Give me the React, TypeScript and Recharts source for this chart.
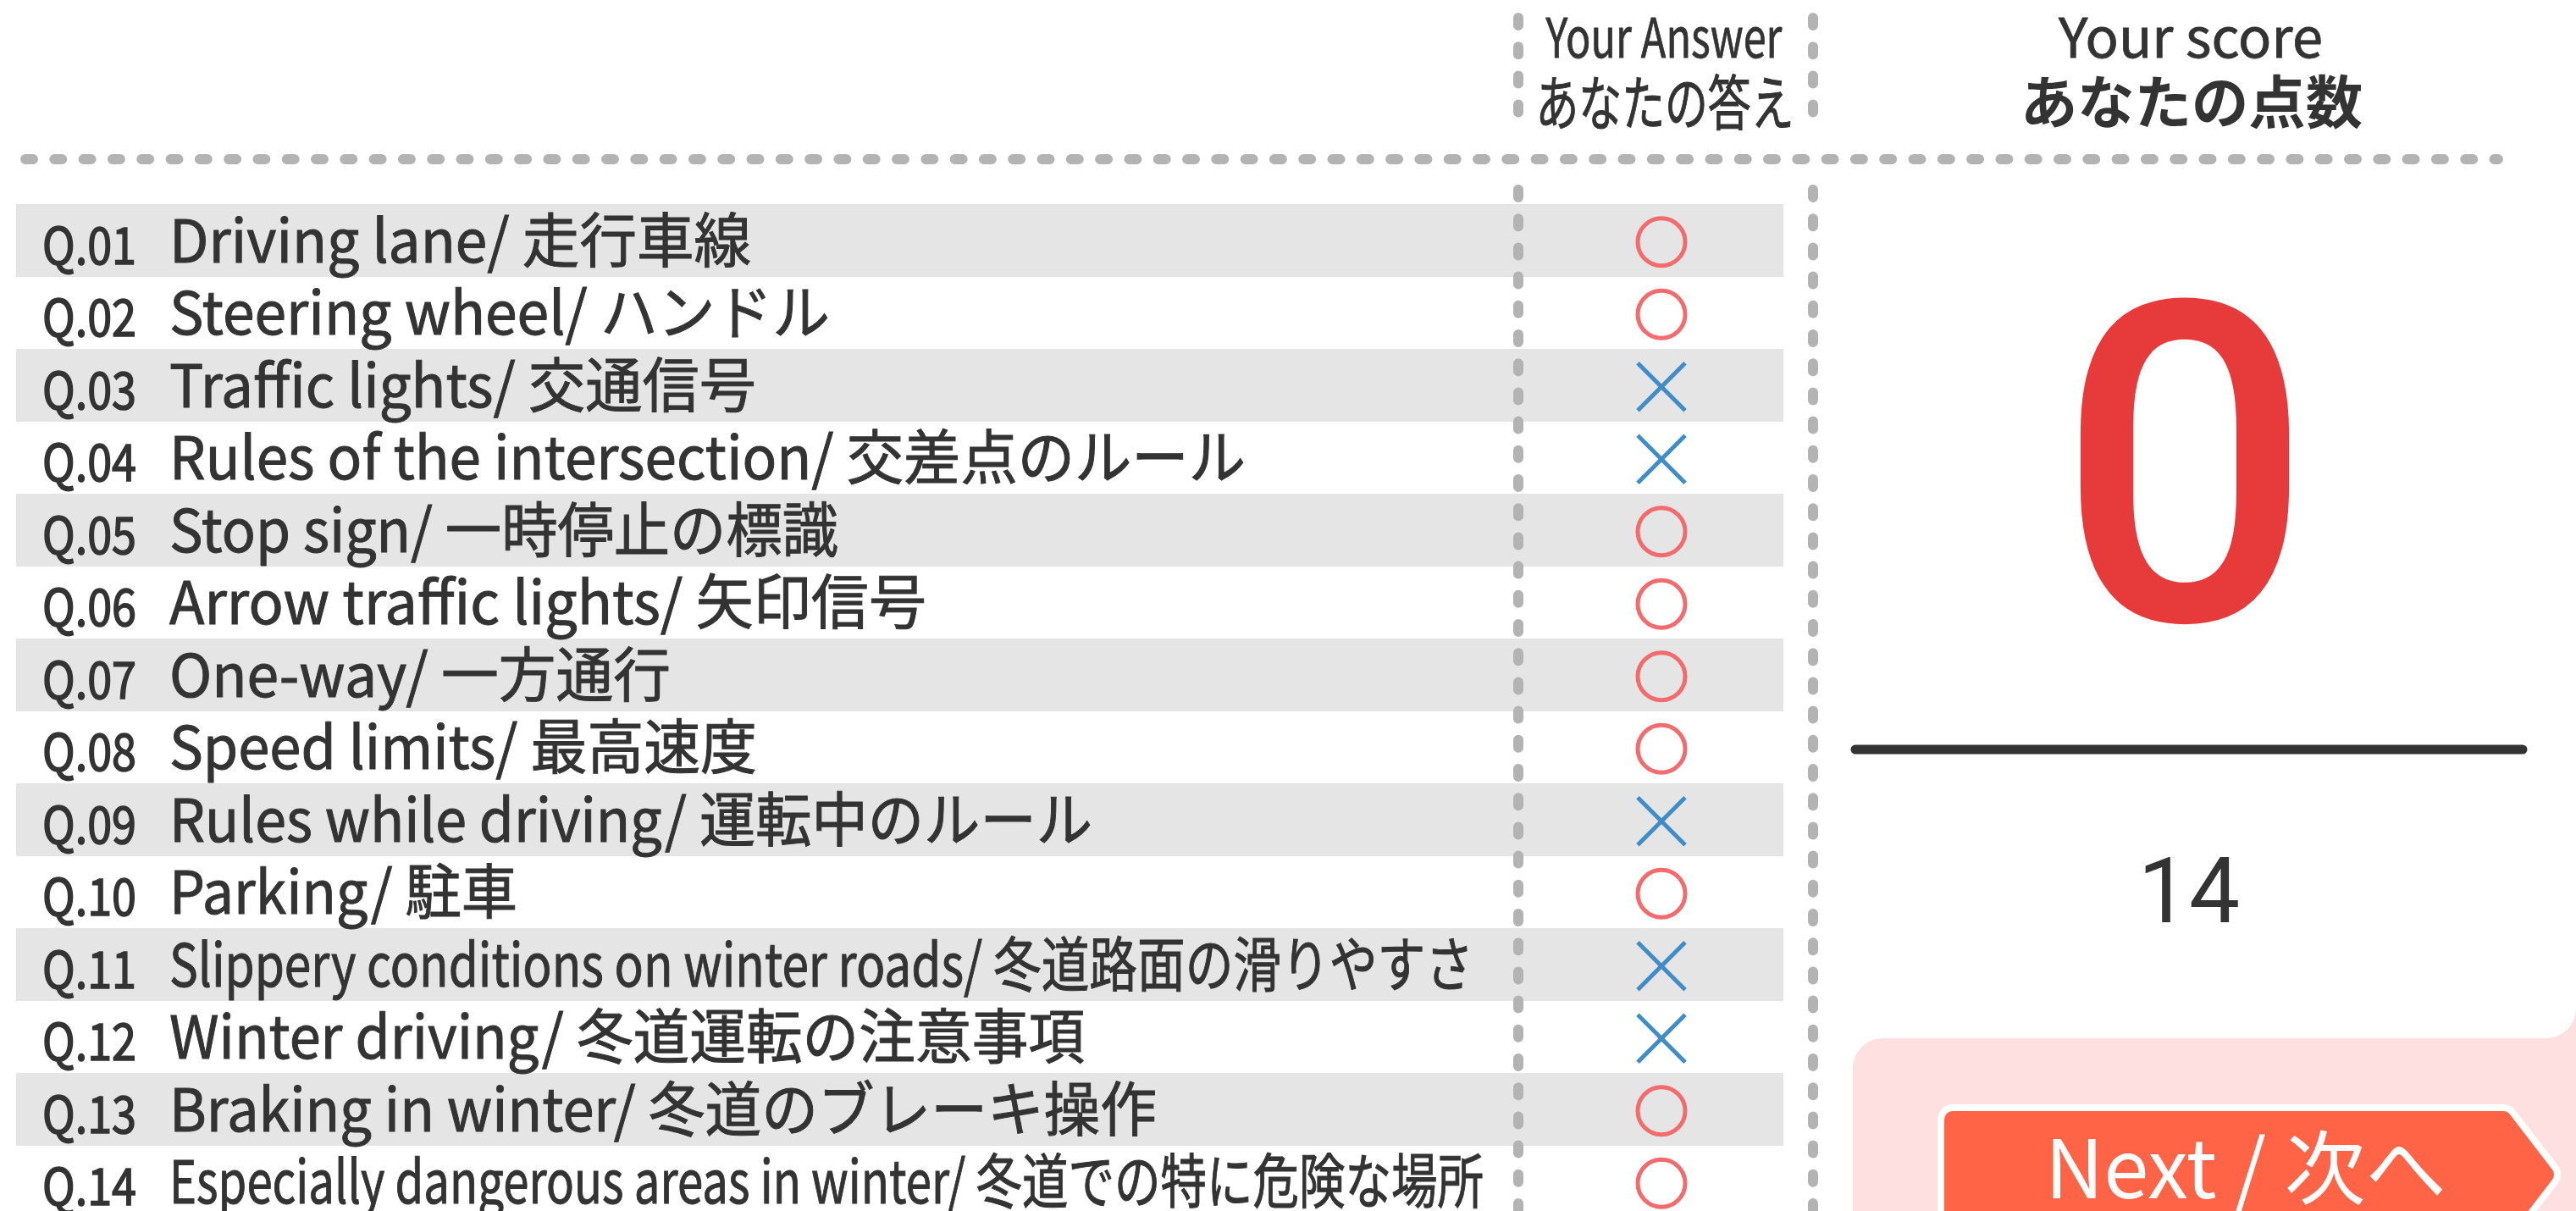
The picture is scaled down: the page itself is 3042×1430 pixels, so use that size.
import React from "react";
import { ComposedChart, Bar, Line, XAxis, YAxis, LabelList } from "recharts";

// quiz result data
const QUESTION_NO = ["Q.01", "Q.02", "Q.03", "Q.04", "Q.05", "Q.06", "Q.07", "Q.08", "Q.09", "Q.10", "Q.11", "Q.12", "Q.13", "Q.14"];
const QUESTION_TEXT = [
  "Driving lane/ 走行車線",
  "Steering wheel/ ハンドル",
  "Traffic lights/ 交通信号",
  "Rules of the intersection/ 交差点のルール",
  "Stop sign/ 一時停止の標識",
  "Arrow traffic lights/ 矢印信号",
  "One-way/ 一方通行",
  "Speed limits/ 最高速度",
  "Rules while driving/ 運転中のルール",
  "Parking/ 駐車",
  "Slippery conditions on winter roads/ 冬道路面の滑りやすさ",
  "Winter driving/ 冬道運転の注意事項",
  "Braking in winter/ 冬道のブレーキ操作",
  "Especially dangerous areas in winter/ 冬道での特に危険な場所",
];
const ANSWERS = ["○", "○", "×", "×", "○", "○", "○", "○", "×", "○", "×", "×", "○", "○"];
const SCORE = 0;
const TOTAL = 14;
const HEADER_ANSWER = ["Your Answer", "あなたの答え"];
const HEADER_SCORE = ["Your score", "あなたの点数"];
const NEXT_LABEL = "Next / 次へ";

// layout
const W = 3042;
const H = 1430;
const ROW_TOP = 241;
const ROW_H = 85.5;
const ANSWER_X = 1962;
const STRIPE: [number, number] = [19, 2106];
const LABEL_WIDTH = [687, 780, 693, 1271, 790, 894, 592, 694, 1090, 411, 1540, 1081, 1166, 1552];
const FONT = '"Noto Sans CJK JP", "Noto Sans", sans-serif';
const INK = "#333333";
const DASH = "#b3b3b3";

const rows = QUESTION_TEXT.map((text, i) => ({
  text,
  answer: ANSWERS[i],
  stripe: i % 2 === 0 ? STRIPE : null,
}));

// question number + text, drawn at the left of each row
const renderQuestion = (props: any) => {
  const { y, value, index } = props;
  return (
    <g key={`q${index}`} fontFamily={FONT} fill={INK} stroke={INK}>
      <text x={50} y={y + 28} fontSize={60} strokeWidth={1.6} textLength={111} lengthAdjust="spacingAndGlyphs">
        {QUESTION_NO[index]}
      </text>
      <text x={200} y={y + 26} fontSize={70} strokeWidth={1} textLength={LABEL_WIDTH[index]} lengthAdjust="spacingAndGlyphs">
        {value}
      </text>
    </g>
  );
};

const renderMark = (props: any) => {
  const { cx, cy, payload, index } = props;
  const y = cy + 2;
  if (payload.answer === "○") {
    return <circle key={`m${index}`} cx={cx} cy={y} r={28} fill="none" stroke="#f46b6e" strokeWidth={5} />;
  }
  return (
    <g key={`m${index}`} stroke="#3f8cc6" strokeWidth={5}>
      <line x1={cx - 28} y1={y - 28} x2={cx + 28} y2={y + 28} />
      <line x1={cx + 28} y1={y - 28} x2={cx - 28} y2={y + 28} />
    </g>
  );
};

export default function App() {
  const chartH = ROW_TOP + QUESTION_TEXT.length * ROW_H + 2;
  return (
    <div style={{ position: "relative", width: W, height: H, overflow: "hidden", background: "#fff" }}>
      <style>{"body{margin:0}"}</style>

      {/* panels, headers, score */}
      <svg width={W} height={H} style={{ position: "absolute", left: 0, top: 0 }} fontFamily={FONT}>
        <rect x={2990} y={1170} width={60} height={80} fill="#fde0df" />
        <rect x={-100} y={-100} width={W + 100} height={1326} rx={35} fill="#fff" />
        <rect x={2188} y={1226} width={1000} height={400} rx={35} fill="#fde0df" />

        <path d="M2306 1322 L2956 1322 L3006 1387 L2956 1452 L2306 1452 Z" fill="#fff" stroke="#fff" strokeWidth={36} strokeLinejoin="round" />
        <path d="M2306 1322 L2956 1322 L3006 1387 L2956 1452 L2306 1452 Z" fill="#ff6446" stroke="#ff6446" strokeWidth={20} strokeLinejoin="round" />
        <text x={2652} y={1415} fontSize={95} fill="#fff" textAnchor="middle" textLength={474} lengthAdjust="spacingAndGlyphs">
          {NEXT_LABEL}
        </text>

        <g fill={INK} stroke={INK} textAnchor="middle">
          <text x={1965} y={68} fontSize={64} strokeWidth={0.8} textLength={279} lengthAdjust="spacingAndGlyphs">{HEADER_ANSWER[0]}</text>
          <text x={1966} y={148} fontSize={70} strokeWidth={1} textLength={305} lengthAdjust="spacingAndGlyphs">{HEADER_ANSWER[1]}</text>
          <text x={2587} y={68} fontSize={64} strokeWidth={0.8} textLength={312} lengthAdjust="spacingAndGlyphs">{HEADER_SCORE[0]}</text>
          <text x={2588} y={146} fontSize={68} fontWeight={700} strokeWidth={0} textLength={404} lengthAdjust="spacingAndGlyphs">{HEADER_SCORE[1]}</text>
        </g>

        <text x={2580} y={732} fontSize={528} fontWeight={500} fill="#e63b3a" textAnchor="middle" fontFamily="Roboto, sans-serif">
          {SCORE}
        </text>
        <line x1={2191} y1={885} x2={2979} y2={885} stroke={INK} strokeWidth={11} strokeLinecap="round" />
        <text x={2585} y={1089} fontSize={107} fill={INK} textAnchor="middle" fontFamily="Roboto, sans-serif">
          {TOTAL}
        </text>
      </svg>

      <div style={{ position: "absolute", left: 0, top: 0 }}>
        <ComposedChart
          width={W}
          height={chartH}
          layout="vertical"
          data={rows}
          margin={{ top: ROW_TOP, right: 0, bottom: 2, left: 0 }}
          barCategoryGap={0}
        >
          <XAxis type="number" domain={[0, W]} hide />
          <YAxis type="category" dataKey="text" hide />
          <Bar dataKey="stripe" fill="#e5e5e5" isAnimationActive={false} />
          <Line
            dataKey={() => ANSWER_X}
            stroke="none"
            strokeWidth={0}
            dot={renderMark}
            activeDot={false}
            isAnimationActive={false}
          >
            <LabelList dataKey="text" content={renderQuestion} />
          </Line>
        </ComposedChart>
      </div>

      {/* dotted separators */}
      <svg width={W} height={H} style={{ position: "absolute", left: 0, top: 0, pointerEvents: "none" }}>
        <g stroke={DASH} strokeWidth={12} strokeLinecap="round" strokeDasharray="9 25.3">
          <line x1={30} y1={188} x2={2950} y2={188} />
        </g>
        <g stroke={DASH} strokeWidth={12} strokeLinecap="round" strokeDasharray="9 25.2">
          <line x1={1793} y1={21} x2={1793} y2={135} />
          <line x1={2141} y1={21} x2={2141} y2={135} />
          <line x1={1793} y1={224} x2={1793} y2={H} />
          <line x1={2141} y1={224} x2={2141} y2={H} />
        </g>
      </svg>
    </div>
  );
}
